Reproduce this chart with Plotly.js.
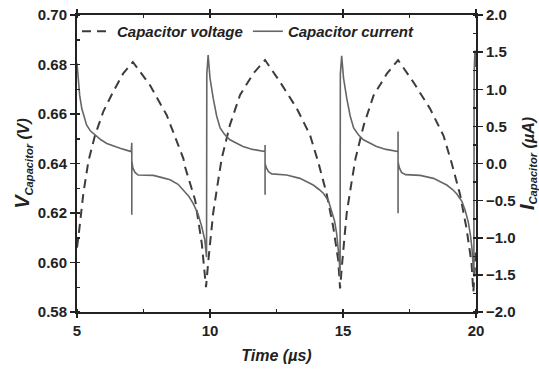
<!DOCTYPE html>
<html>
<head>
<meta charset="utf-8">
<script src="https://cdn.plot.ly/plotly-3.0.1.min.js"></script>
<style>html,body{margin:0;padding:0;background:#fff;}#chart{width:539px;height:369px;}</style>
</head>
<body>
<div id="chart"></div>
<script>
// Capacitor voltage (V) vs time (µs)
const timeV = [5.0, 5.05, 5.24, 5.43, 5.68, 5.99, 6.36, 6.74, 7.1, 7.74, 8.37, 9.0, 9.06, 9.44, 9.69, 9.81, 9.85,
  9.94, 10.12, 10.31, 10.44, 10.75, 11.13, 11.63, 12.0, 12.07, 12.63, 13.26, 13.76, 14.07, 14.38, 14.63, 14.82, 14.89,
  14.97, 15.14, 15.33, 15.47, 15.78, 16.15, 16.65, 17.0, 17.07, 17.65, 18.28, 18.78, 19.09, 19.4, 19.64, 19.83, 19.9,
  19.97, 20.0];
const voltage = [0.606, 0.610, 0.628, 0.641, 0.6515, 0.661, 0.669, 0.6764, 0.681, 0.6717, 0.6596, 0.642, 0.6387, 0.6253, 0.6078, 0.594, 0.590,
  0.601, 0.620, 0.6333, 0.642, 0.6556, 0.6677, 0.6764, 0.6811, 0.6818, 0.673, 0.6623, 0.6515, 0.6405, 0.628, 0.6145, 0.601, 0.5895,
  0.600, 0.620, 0.633, 0.642, 0.6555, 0.6675, 0.6763, 0.681, 0.6818, 0.6728, 0.662, 0.6512, 0.640, 0.6275, 0.614, 0.600, 0.588,
  0.600, 0.606];

// Capacitor current (µA) vs time (µs)
const timeI = [5.0, 5.05, 5.1, 5.18, 5.27, 5.36, 5.5, 5.68, 5.9, 6.12, 6.36, 6.62, 6.85, 7.04, 7.06, 7.06, 7.06, 7.1, 7.18, 7.3,
  7.87, 8.2, 8.5, 8.8, 9.0, 9.2, 9.37, 9.55, 9.69, 9.8, 9.87,
  9.88, 9.93, 10.0, 10.12, 10.25, 10.38, 10.55, 10.75, 11.0, 11.24, 11.6, 11.99, 12.07, 12.07, 12.07, 12.07, 12.12, 12.2, 12.32,
  12.88, 13.38, 13.88, 14.1, 14.26, 14.45, 14.57, 14.68, 14.76, 14.82, 14.86, 14.89,
  14.9, 14.95, 15.02, 15.14, 15.27, 15.4, 15.57, 15.77, 16.02, 16.26, 16.62, 17.04, 17.07, 17.07, 17.07, 17.07, 17.12, 17.2, 17.35,
  17.9, 18.4, 18.9, 19.12, 19.28, 19.47, 19.6, 19.71, 19.79, 19.85, 19.89, 19.92,
  19.93, 19.96, 20.0];
const current = [1.35, 1.10, 0.92, 0.74, 0.62, 0.52, 0.44, 0.38, 0.32, 0.27, 0.235, 0.205, 0.18, 0.16, 0.28, -0.69, 0.04, -0.06, -0.12, -0.155,
  -0.16, -0.19, -0.22, -0.28, -0.36, -0.44, -0.54, -0.68, -0.85, -1.02, -1.26,
  1.2, 1.46, 1.15, 0.88, 0.64, 0.48, 0.39, 0.32, 0.27, 0.23, 0.19, 0.16, 0.16, 0.25, -0.42, 0.0, -0.06, -0.11, -0.14,
  -0.155, -0.2, -0.29, -0.35, -0.40, -0.50, -0.63, -0.77, -0.94, -1.12, -1.30, -1.52,
  1.2, 1.45, 1.15, 0.88, 0.64, 0.48, 0.39, 0.32, 0.27, 0.23, 0.19, 0.16, 0.16, 0.43, -0.67, 0.02, -0.06, -0.12, -0.15,
  -0.16, -0.2, -0.29, -0.35, -0.41, -0.51, -0.64, -0.79, -0.96, -1.15, -1.33, -1.52,
  1.2, 1.52, 1.3];

const xTicks = [5, 10, 15, 20];

const FONT = 'Liberation Sans, Arial, sans-serif';
const tickFont = {family: FONT, size: 15, color: '#222', weight: 'bold'};
const titleFont = {family: FONT, size: 16, color: '#222', weight: 'bold', style: 'italic'};

const traces = [
  {
    x: timeV, y: voltage, name: 'Capacitor voltage', type: 'scatter', mode: 'lines',
    line: {color: '#3c3c3c', width: 2, dash: '9px,6px'}, yaxis: 'y'
  },
  {
    x: timeI, y: current, name: 'Capacitor current', type: 'scatter', mode: 'lines',
    line: {color: '#666666', width: 1.6}, yaxis: 'y2'
  }
];

const layout = {
  width: 539, height: 369,
  margin: {l: 77, r: 63, t: 15, b: 57},
  paper_bgcolor: '#fff', plot_bgcolor: '#fff',
  showlegend: true,
  legend: {
    orientation: 'h', x: 0.0, y: 1.0, xanchor: 'left', yanchor: 'top',
    bgcolor: 'rgba(0,0,0,0)', font: {family: FONT, size: 15, color: '#222', weight: 'bold', style: 'italic'},
    itemwidth: 30, tracegroupgap: 0
  },
  xaxis: {
    range: [5, 20], tickvals: xTicks, ticktext: xTicks.map(String),
    showgrid: false, zeroline: false,
    showline: true, linecolor: '#222', linewidth: 2, mirror: 'ticks',
    ticks: 'outside', ticklen: 4, tickwidth: 1.5, tickcolor: '#222',
    minor: {dtick: 2.5, tick0: 5, ticks: 'inside', ticklen: 3, tickwidth: 1.5, tickcolor: '#222'},
    tickfont: tickFont,
    title: {text: 'Time (<i>µ</i>s)', font: titleFont, standoff: 12}
  },
  yaxis: {
    range: [0.58, 0.70], dtick: 0.02, tick0: 0.58, tickformat: '.2f',
    showgrid: false, zeroline: false,
    showline: true, linecolor: '#222', linewidth: 2,
    ticks: 'outside', ticklen: 5, tickwidth: 1.5, tickcolor: '#222',
    minor: {dtick: 0.01, ticks: 'inside', ticklen: 3, tickwidth: 1.5, tickcolor: '#222'},
    tickfont: tickFont,
    title: {text: '<span style="font-size:20px">V</span><sub>Capacitor</sub> (V)', font: titleFont, standoff: 4}
  },
  yaxis2: {
    range: [-2, 2], dtick: 0.5, tick0: -2, tickformat: '.1f',
    overlaying: 'y', side: 'right',
    showgrid: false, zeroline: false,
    showline: true, linecolor: '#222', linewidth: 2,
    ticks: 'outside', ticklen: 5, tickwidth: 1.5, tickcolor: '#222',
    minor: {dtick: 0.25, ticks: 'inside', ticklen: 3, tickwidth: 1.5, tickcolor: '#222'},
    tickfont: tickFont,
    title: {text: '<span style="font-size:20px">I</span><sub>Capacitor</sub> (<i>µ</i>A)', font: titleFont, standoff: 4}
  }
};

Plotly.newPlot('chart', traces, layout, {displayModeBar: false, staticPlot: true});
</script>
</body>
</html>
